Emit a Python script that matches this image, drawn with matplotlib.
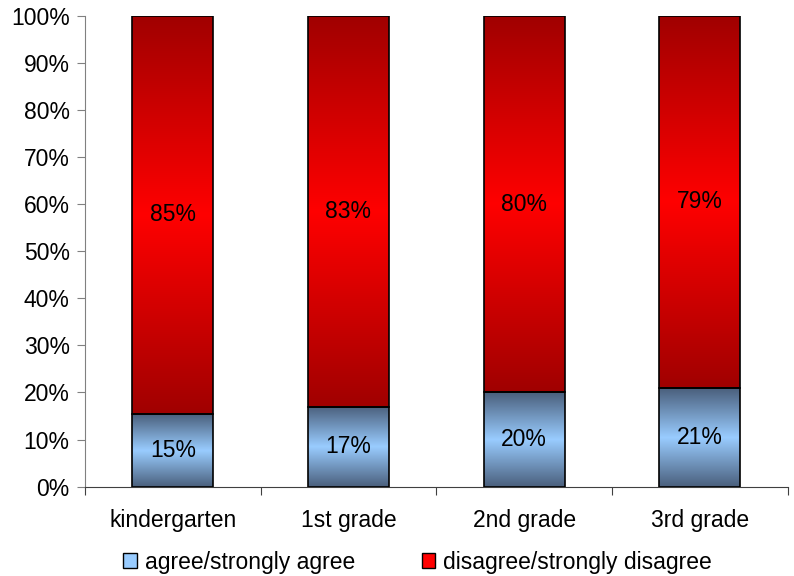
import numpy as np
import matplotlib.pyplot as plt
from matplotlib.colors import LinearSegmentedColormap
from matplotlib.patches import Patch

plt.rcParams['font.family'] = ['Liberation Sans', 'DejaVu Sans']

grades = ['kindergarten', '1st grade', '2nd grade', '3rd grade']
agree = [15.4, 17, 20, 21]
disagree = [84.6, 83, 80, 79]
series_names = ['agree/strongly agree', 'disagree/strongly disagree']

blue_map = LinearSegmentedColormap.from_list('b', ['#4a5f7c', '#99ccff', '#4a5f7c'])
red_map = LinearSegmentedColormap.from_list('r', ['#a00000', '#ff0000', '#a00000'])

fs = 16.5
fig = plt.figure(figsize=(7.94, 5.76), dpi=100)
ax = fig.add_axes([0.107, 0.155, 0.885, 0.818])

x = np.arange(len(grades))
w = 0.46
grad = np.linspace(0, 1, 256).reshape(-1, 1)

def gradient_bars(bottoms, heights, cmap):
    bars = ax.bar(x, heights, w, bottom=bottoms, color='none', edgecolor='black', linewidth=1.2, zorder=3)
    for b in bars:
        x0, y0 = b.get_x(), b.get_y()
        im = ax.imshow(grad, cmap=cmap, extent=(x0, x0 + b.get_width(), y0, y0 + b.get_height()),
                       aspect='auto', origin='lower', zorder=2, interpolation='bilinear')
        im.set_clip_path(b)
    return bars

gradient_bars(np.zeros(4), agree, blue_map)
gradient_bars(agree, disagree, red_map)

for i in range(len(grades)):
    ax.text(x[i], agree[i] / 2, '%d%%' % round(agree[i]), ha='center', va='center', fontsize=fs, zorder=4)
    ax.text(x[i], agree[i] + disagree[i] / 2, '%d%%' % round(disagree[i]), ha='center', va='center', fontsize=fs, zorder=4)

ax.set_xlim(-0.5, len(grades) - 0.5)
ax.set_ylim(0, 100)
ax.set_yticks(np.arange(0, 101, 10))
ax.set_yticklabels(['%d%%' % v for v in range(0, 101, 10)], fontsize=fs)
ax.set_xticks(np.arange(-0.5, len(grades), 1))
ax.set_xticklabels([])
ax.set_xticks(x, minor=True)
ax.set_xticklabels(grades, minor=True, fontsize=fs)
ax.tick_params(axis='x', which='minor', length=0, pad=16)
ax.tick_params(axis='x', which='major', length=6, direction='out', color='#404040')
ax.tick_params(axis='y', length=6, direction='out', color='#808080', pad=5)
ax.spines['top'].set_visible(False)
ax.spines['right'].set_visible(False)
ax.spines['left'].set_color('#808080')
ax.spines['bottom'].set_color('#404040')

handles = [Patch(facecolor='#99ccff', edgecolor='black'), Patch(facecolor='#ff0000', edgecolor='black')]
fig.legend(handles, series_names, loc='center', bbox_to_anchor=(0.526, 0.024), ncol=2, frameon=False,
           fontsize=fs, handlelength=0.6, handleheight=0.6, columnspacing=2.9, handletextpad=0.35)

fig.savefig('out.png', dpi=100)
